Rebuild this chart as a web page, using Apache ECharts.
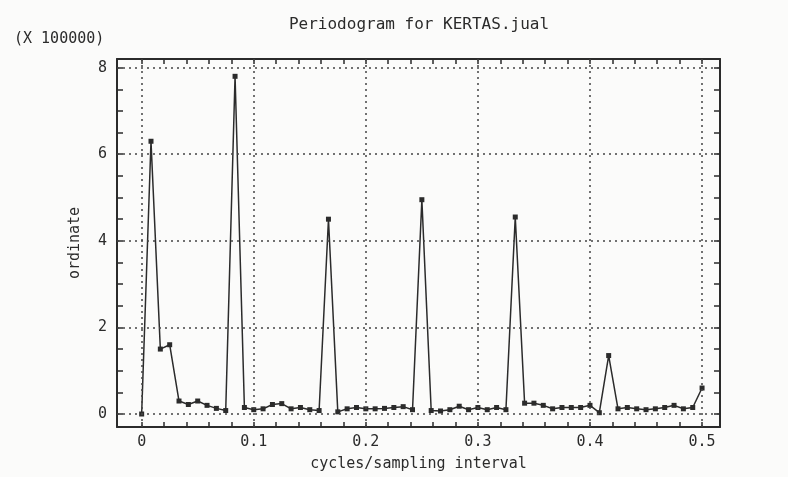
<!DOCTYPE html>
<html>
<head>
<meta charset="utf-8">
<script src="https://cdn.jsdelivr.net/npm/echarts@6/dist/echarts.min.js"></script>
<style>
  html, body { margin: 0; padding: 0; background: #fbfbfa; }
  #main { width: 788px; height: 477px; }
</style>
</head>
<body>
<div id="main"></div>
<script>
// periodogram ordinates (x 100000), frequencies k/120, k = 0..60
var freq = [
  0, 0.00833, 0.01667, 0.025, 0.03333, 0.04167, 0.05, 0.05833, 0.06667, 0.075,
  0.08333, 0.09167, 0.1, 0.10833, 0.11667, 0.125, 0.13333, 0.14167, 0.15, 0.15833,
  0.16667, 0.175, 0.18333, 0.19167, 0.2, 0.20833, 0.21667, 0.225, 0.23333, 0.24167,
  0.25, 0.25833, 0.26667, 0.275, 0.28333, 0.29167, 0.3, 0.30833, 0.31667, 0.325,
  0.33333, 0.34167, 0.35, 0.35833, 0.36667, 0.375, 0.38333, 0.39167, 0.4, 0.40833,
  0.41667, 0.425, 0.43333, 0.44167, 0.45, 0.45833, 0.46667, 0.475, 0.48333, 0.49167,
  0.5
]
var ordinate = [
  0, 6.3, 1.5, 1.6, 0.3, 0.22, 0.3, 0.2, 0.13, 0.08,
  7.8, 0.15, 0.1, 0.12, 0.22, 0.24, 0.12, 0.15, 0.1, 0.08,
  4.5, 0.05, 0.12, 0.15, 0.12, 0.12, 0.13, 0.15, 0.17, 0.1,
  4.95, 0.08, 0.07, 0.1, 0.18, 0.1, 0.15, 0.1, 0.15, 0.1,
  4.55, 0.25, 0.25, 0.2, 0.12, 0.15, 0.15, 0.15, 0.2, 0.03,
  1.35, 0.12, 0.15, 0.12, 0.1, 0.12, 0.15, 0.2, 0.12, 0.15,
  0.6
]
var xTicks = [0, 0.02, 0.04, 0.06, 0.08, 0.1, 0.12, 0.14, 0.16, 0.18, 0.2, 0.22, 0.24,
  0.26, 0.28, 0.3, 0.32, 0.34, 0.36, 0.38, 0.4, 0.42, 0.44, 0.46, 0.48, 0.5]
var xLabels = [0, 0.1, 0.2, 0.3, 0.4, 0.5]
var yTicks = [0, 0.5, 1, 1.5, 2, 2.5, 3, 3.5, 4, 4.5, 5, 5.5, 6, 6.5, 7, 7.5, 8]
var yLabels = [0, 2, 4, 6, 8]

var chart = echarts.init(document.getElementById('main'))
var font = '"DejaVu Sans Mono", "Liberation Mono", monospace'
var ink = '#2b2b2b'

function xAxisOpt(pos, show) {
  return {
    type: 'value',
    position: pos,
    min: -0.022,
    max: 0.516,
    axisLine: { show: true, onZero: false, lineStyle: { color: ink, width: 2 } },
    axisTick: { show: true, inside: true, length: 5, customValues: xTicks, lineStyle: { color: ink, width: 1.5 } },
    axisLabel: {
      show: show,
      customValues: xLabels,
      margin: 8,
      color: ink,
      fontFamily: font,
      fontSize: 15,
      formatter: function (v) { return String(v) }
    },
    splitLine: { show: false }
  }
}

function yAxisOpt(pos, show) {
  return {
    type: 'value',
    position: pos,
    min: -0.3,
    max: 8.2,
    axisLine: { show: true, onZero: false, lineStyle: { color: ink, width: 2 } },
    axisTick: { show: true, inside: true, length: 6, customValues: yTicks, lineStyle: { color: ink, width: 1.5 } },
    axisLabel: {
      show: show,
      customValues: yLabels,
      margin: 10,
      color: ink,
      fontFamily: font,
      fontSize: 15
    },
    splitLine: { show: false }
  }
}

var xa = xAxisOpt('bottom', true)
xa.name = 'cycles/sampling interval'
xa.nameLocation = 'middle'
xa.nameGap = 30
xa.nameTextStyle = { color: ink, fontFamily: font, fontSize: 15 }

var ya = yAxisOpt('left', true)
ya.name = 'ordinate'
ya.nameLocation = 'middle'
ya.nameGap = 34
ya.nameTextStyle = { color: ink, fontFamily: font, fontSize: 15 }

var gridX = xLabels.map(function (v) { return { xAxis: v } })
var gridY = yLabels.map(function (v) { return { yAxis: v } })

var option = {
  backgroundColor: '#fbfbfa',
  animation: false,
  title: {
    text: 'Periodogram for KERTAS.jual',
    left: 414,
    top: 12,
    textAlign: 'center',
    textStyle: { color: ink, fontFamily: font, fontSize: 16, fontWeight: 'normal' }
  },
  graphic: [{
    type: 'text',
    left: 14,
    top: 32,
    style: { text: '(X 100000)', fill: ink, font: '15px ' + font }
  }],
  grid: { left: 117, right: 68, top: 59, bottom: 50 },
  xAxis: [xa, xAxisOpt('top', false)],
  yAxis: [ya, yAxisOpt('right', false)],
  series: [{
    type: 'line',
    data: freq.map(function (f, i) { return [f, ordinate[i]] }),
    symbol: 'rect',
    symbolSize: 5,
    showAllSymbol: true,
    lineStyle: { color: ink, width: 1.5 },
    itemStyle: { color: ink },
    markLine: {
      silent: true,
      symbol: 'none',
      label: { show: false },
      lineStyle: { color: '#444', type: [2, 4], width: 1.5 },
      data: gridX.concat(gridY)
    },
    z: 3
  }]
}
chart.setOption(option)
</script>
</body>
</html>
